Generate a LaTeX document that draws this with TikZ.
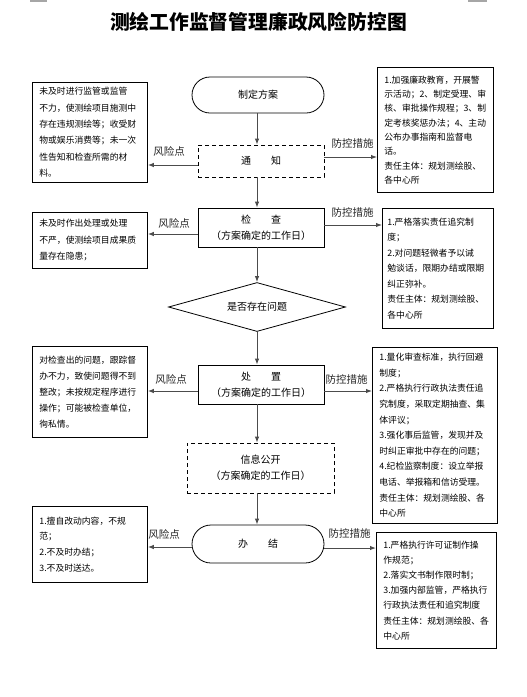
\documentclass[tikz,border=0pt]{standalone}
\usepackage{fontspec}
\newfontfamily\cjk{Noto Sans CJK SC}
\usetikzlibrary{arrows.meta,shapes.geometric,shapes.misc}
\begin{document}
\begin{tikzpicture}[x=1pt,y=-1pt,
  txtbox/.style={draw, line width=0.8pt, anchor=north west, align=left,
    inner xsep=7pt, inner ysep=0pt},
  mainbox/.style={draw, line width=0.8pt, align=center, inner sep=0pt,
    font=\cjk\fontsize{10}{16}\selectfont},
  dashbox/.style={mainbox, dash pattern=on 4pt off 3pt},
  terminal/.style={mainbox, rounded rectangle},
  decision/.style={mainbox, diamond, aspect=3.6},
  arr/.style={draw=black!70, line width=1pt, -{Latex[length=6pt,width=4.5pt]}},
  lab/.style={font=\cjk\fontsize{10.5}{12}\selectfont, text=black!85, inner sep=0pt}
]
\useasboundingbox (0,0) rectangle (527,697);
\fill[white] (0,0) rectangle (527,697);
% crop marks
\draw[black!35, line width=1.5pt] (30,0.75) -- (47,0.75);
\draw[black!35, line width=1.5pt] (468,0.75) -- (487,0.75);
% title
\node[font=\cjk\bfseries\fontsize{19.8}{22}\selectfont, inner sep=0pt] (title) at (258.5,22) {测绘工作监督管理廉政风险防控图};

% main column
\node[terminal, minimum width=132pt, minimum height=36pt] (start) at (258,95) {制定方案};
\node[dashbox, minimum width=126pt, minimum height=32pt] (notice) at (261,161) {通　　知};
\node[mainbox, minimum width=126pt, minimum height=39pt] (check) at (261,227.5) {检　　查\\（方案确定的工作日）};
\node[decision, minimum width=177pt, minimum height=49pt] (decide) at (257,307) {是否存在问题};
\node[mainbox, minimum width=126pt, minimum height=39pt] (handle) at (261,384.5) {处　　置\\（方案确定的工作日）};
\node[dashbox, minimum width=147pt, minimum height=50pt] (publish) at (260.5,468) {信息公开\\（方案确定的工作日）};
\node[terminal, minimum width=132pt, minimum height=38pt] (finish) at (258,544) {办　　结};

% left boxes
\node[txtbox, text width=101pt, minimum height=100pt, font=\cjk\fontsize{8.8}{16.4}\selectfont] (L1) at (32,82)
 {未及时进行监管或监管\\不力，使测绘项目施测中\\存在违规测绘等；收受财\\物或娱乐消费等；未一次\\性告知和检查所需的材\\料。};
\node[txtbox, text width=101pt, minimum height=56pt, font=\cjk\fontsize{8.8}{16.5}\selectfont] (L2) at (32,212)
 {未及时作出处理或处理\\不严，使测绘项目成果质\\量存在隐患；};
\node[txtbox, text width=101pt, minimum height=91pt, font=\cjk\fontsize{8.8}{16}\selectfont] (L3) at (32,346)
 {对检查出的问题，跟踪督\\办不力，致使问题得不到\\整改；未按规定程序进行\\操作；可能被检查单位，\\徇私情。};
\node[txtbox, text width=101pt, minimum height=76pt, font=\cjk\fontsize{8.8}{15.7}\selectfont] (L4) at (32,506)
 {1.擅自改动内容，不规\\范；\\2.不及时办结；\\3.不及时送达。};

% right boxes
\node[txtbox, text width=102pt, minimum height=125pt, font=\cjk\fontsize{8.8}{14.3}\selectfont] (R1) at (377,67)
 {1.加强廉政教育，开展警\\示活动；2、制定受理、审\\核、审批操作规程；3、制\\定考核奖惩办法；4、主动\\公布办事指南和监督电\\话。\\责任主体：规划测绘股、\\各中心所};
\node[txtbox, inner xsep=5pt, text width=101pt, minimum height=120pt, font=\cjk\fontsize{8.8}{15.5}\selectfont] (R2) at (382,208)
 {1.严格落实责任追究制\\度；\\2.对问题轻微者予以诫\\勉谈话，限期办结或限期\\纠正弥补。\\责任主体：规划测绘股、\\各中心所};
\node[txtbox, text width=111pt, minimum height=176pt, font=\cjk\fontsize{8.8}{15.6}\selectfont] (R3) at (372,347)
 {1.量化审查标准，执行回避\\制度；\\2.严格执行行政执法责任追\\究制度，采取定期抽查、集\\体评议；\\3.强化事后监管，发现并及\\时纠正审批中存在的问题；\\4.纪检监察制度：设立举报\\电话、举报箱和信访受理。\\责任主体：规划测绘股、各\\中心所};
\node[txtbox, text width=106pt, minimum height=116pt, font=\cjk\fontsize{8.8}{15.2}\selectfont] (R4) at (376,532)
 {1.严格执行许可证制作操\\作规范；\\2.落实文书制作限时制；\\3.加强内部监管，严格执行\\行政执法责任和追究制度\\责任主体：规划测绘股、各\\中心所};

% vertical flow
\coordinate (colx) at (257,0);
\draw[arr] (start.south -| colx) -- (notice.north -| colx);
\draw[arr] (notice.south -| colx) -- (check.north -| colx);
\draw[arr] (check.south -| colx) -- (decide.north);
\draw[arr] (decide.south) -- (handle.north -| colx);
\draw[arr] (handle.south -| colx) -- (publish.north -| colx);
\draw[arr] (publish.south -| colx) -- (finish.north -| colx);

% horizontal connectors
\coordinate (yNl) at (0,165); \coordinate (yNr) at (0,157);
\coordinate (yCl) at (0,234); \coordinate (yCr) at (0,225);
\coordinate (yHl) at (0,391); \coordinate (yHr) at (0,391);
\coordinate (yFl) at (0,547); \coordinate (yFr) at (0,548);
\draw[arr] (yNl -| notice.west) -- (yNl -| L1.east);
\draw[arr] (yNr -| notice.east) -- (yNr -| R1.west);
\draw[arr] (yCl -| check.west) -- (yCl -| L2.east);
\draw[arr] (yCr -| check.east) -- (yCr -| R2.west);
\draw[arr] (yHl -| handle.west) -- (yHl -| L3.east);
\draw[arr] (yHr -| handle.east) -- (yHr -| R3.west);
\draw[arr] (yFl -| finish.west) -- (yFl -| L4.east);
\draw[arr] (yFr -| finish.east) -- (yFr -| R4.west);

% labels
\node[lab] (rk1) at (169,151) {风险点};
\node[lab] (pc1) at (352.5,144) {防控措施};
\node[lab] (rk2) at (174,223) {风险点};
\node[lab] (pc2) at (352.5,213) {防控措施};
\node[lab] (rk3) at (171,379) {风险点};
\node[lab] (pc3) at (346.5,380) {防控措施};
\node[lab] (rk4) at (164,534) {风险点};
\node[lab] (pc4) at (349.5,534) {防控措施};
\end{tikzpicture}
\end{document}
